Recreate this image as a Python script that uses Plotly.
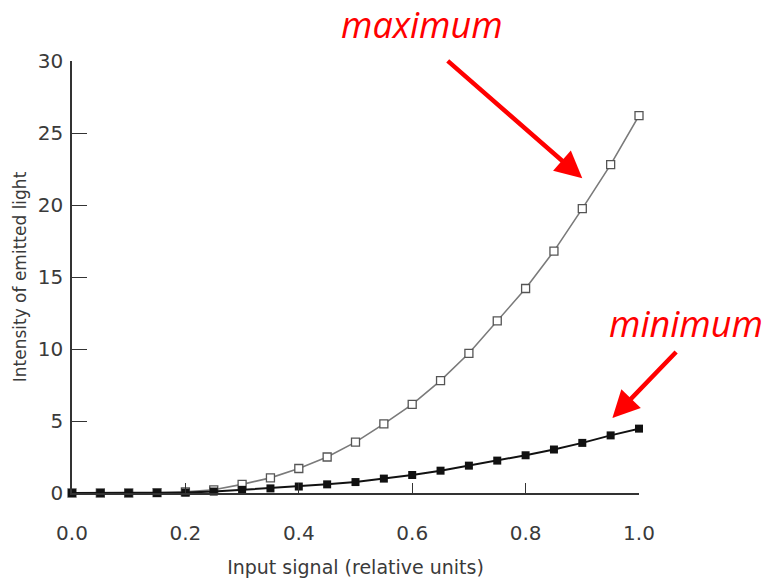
import plotly.graph_objects as go

# Input signal levels (relative units)
signal = [0.00, 0.05, 0.10, 0.15, 0.20, 0.25, 0.30, 0.35, 0.40, 0.45, 0.50,
          0.55, 0.60, 0.65, 0.70, 0.75, 0.80, 0.85, 0.90, 0.95, 1.00]

# Emitted light intensity, upper curve
intensity_max = [0.0, 0.0, 0.0, 0.02, 0.08, 0.22, 0.6, 1.05, 1.7, 2.5, 3.53,
                 4.8, 6.15, 7.8, 9.7, 11.95, 14.2, 16.8, 19.75, 22.8, 26.2]

# Emitted light intensity, lower curve
intensity_min = [0.0, 0.0, 0.0, 0.0, 0.03, 0.1, 0.22, 0.32, 0.45, 0.6, 0.76,
                 1.0, 1.25, 1.55, 1.9, 2.25, 2.62, 3.02, 3.48, 4.0, 4.47]

x_ticks = [0.0, 0.2, 0.4, 0.6, 0.8, 1.0]
y_ticks = [0, 5, 10, 15, 20, 25, 30]

fig = go.Figure()

fig.add_trace(go.Scatter(
    x=signal, y=intensity_max, mode="lines+markers",
    line=dict(color="#7a7a7a", width=1.6),
    marker=dict(symbol="square", size=8, color="white",
                line=dict(color="#555555", width=1.3)),
    cliponaxis=False, showlegend=False,
))

fig.add_trace(go.Scatter(
    x=signal, y=intensity_min, mode="lines+markers",
    line=dict(color="#111111", width=2),
    marker=dict(symbol="square", size=8, color="#111111"),
    cliponaxis=False, showlegend=False,
))

base_family = "DejaVu Sans, Arial, sans-serif"
axis_font = dict(family=base_family, size=20, color="#3a3a3a")

fig.update_xaxes(
    range=[0, 1], tickvals=x_ticks, tickformat=".1f",
    showline=True, linecolor="#333333", linewidth=1.5,
    ticks="inside", ticklen=10, tickwidth=1.3, tickcolor="#333333",
    showgrid=False, zeroline=False, tickfont=axis_font,
    ticklabelstandoff=21, automargin=False,
    title=dict(text="Input signal (relative units)",
               font=dict(family=base_family, size=19, color="#3a3a3a"),
               standoff=17),
)

fig.update_yaxes(
    range=[0, 30], tickvals=y_ticks,
    showline=True, linecolor="#333333", linewidth=1.5,
    ticks="inside", ticklen=15, tickwidth=1.3, tickcolor="#333333",
    showgrid=False, zeroline=False, tickfont=axis_font,
    ticklabelstandoff=3, automargin=False,
    title=dict(text="Intensity of emitted light",
               font=dict(family=base_family, size=17, color="#3a3a3a"),
               standoff=7),
)

label_font = dict(family="Open Sans, sans-serif", size=36, color="#ff0000")

# Text labels for the two curves (placed in paper space, outside the axes)
fig.add_annotation(x=0.617, y=1.084, xref="paper", yref="paper", text="<i>maximum</i>",
                   showarrow=False, font=label_font, xanchor="center", yanchor="middle")
fig.add_annotation(x=1.083, y=0.392, xref="paper", yref="paper", text="<i>minimum</i>",
                   showarrow=False, font=label_font, xanchor="center", yanchor="middle")

# Arrows pointing at each curve
fig.add_annotation(x=0.9, y=21.85, xref="x", yref="y",
                   ax=0.66, ay=30.1, axref="x", ayref="y",
                   text="", showarrow=True, arrowhead=2, arrowsize=1.2,
                   arrowwidth=4.5, arrowcolor="#ff0000")
fig.add_annotation(x=0.953, y=5.2, xref="x", yref="y",
                   ax=1.068, ay=9.9, axref="x", ayref="y",
                   text="", showarrow=True, arrowhead=2, arrowsize=1.2,
                   arrowwidth=4.5, arrowcolor="#ff0000")

fig.update_layout(
    width=771, height=584,
    margin=dict(l=72, r=132, t=61, b=91),
    plot_bgcolor="white", paper_bgcolor="white",
)

fig.write_html("out.html")
